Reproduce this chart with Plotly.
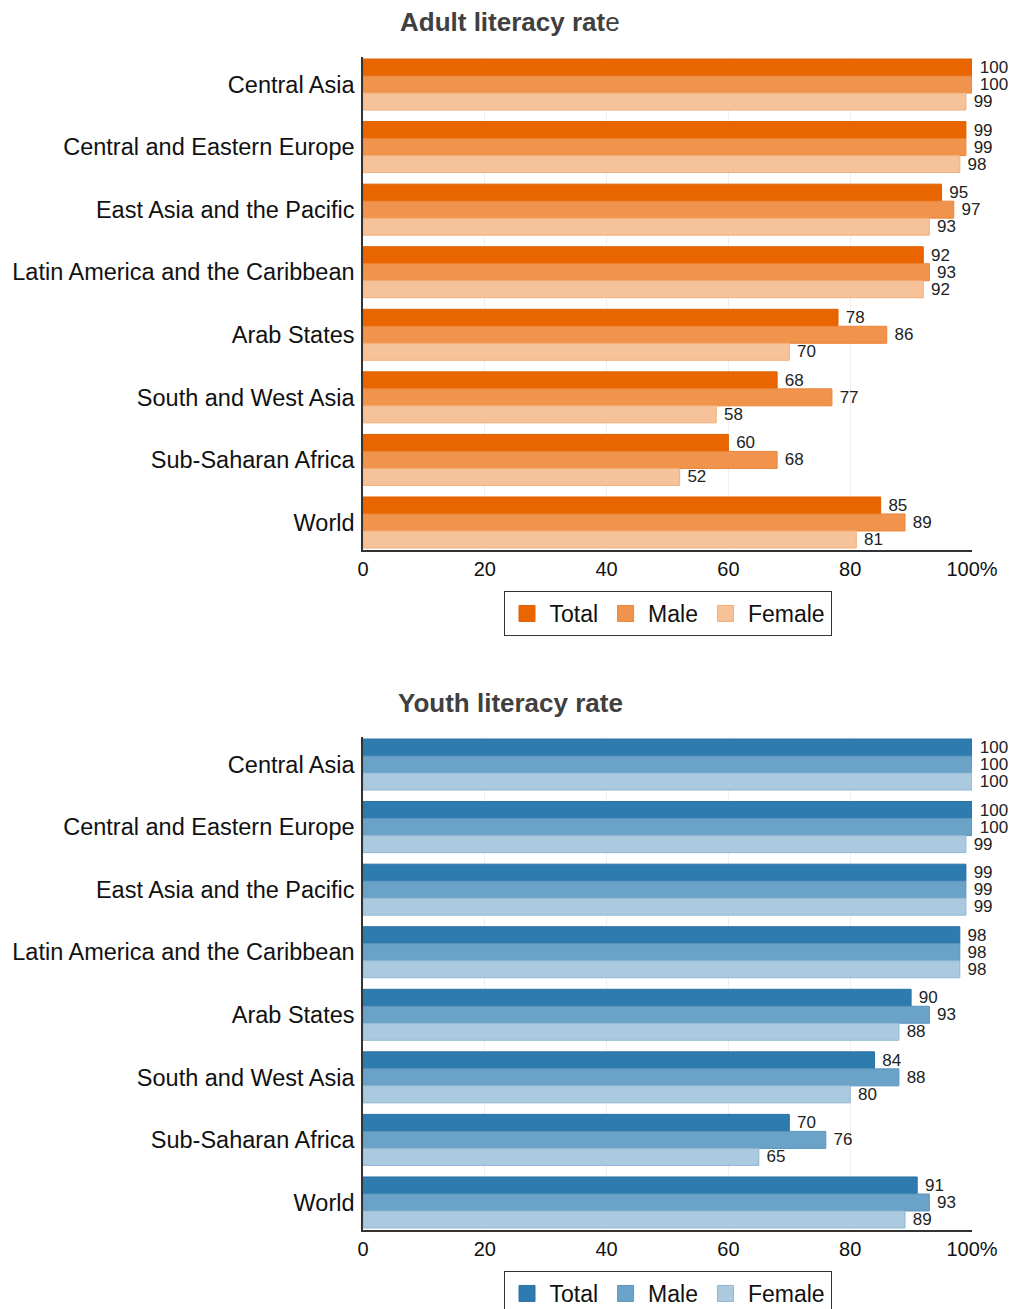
import plotly.graph_objects as go

regions = ["Central Asia", "Central and Eastern Europe", "East Asia and the Pacific",
           "Latin America and the Caribbean", "Arab States", "South and West Asia",
           "Sub-Saharan Africa", "World"]
series_names = ["Total", "Male", "Female"]

adult_total = [100, 99, 95, 92, 78, 68, 60, 85]
adult_male = [100, 99, 97, 93, 86, 77, 68, 89]
adult_female = [99, 98, 93, 92, 70, 58, 52, 81]

youth_total = [100, 100, 99, 98, 90, 84, 70, 91]
youth_male = [100, 100, 99, 98, 93, 88, 76, 93]
youth_female = [100, 99, 99, 98, 88, 80, 65, 89]

x_ticks = [0, 20, 40, 60, 80, 100]
x_ticklabels = ["0", "20", "40", "60", "80", "100%"]

orange_fill = ["#E86500", "#F0944D", "#F6C29A"]
orange_line = ["#E06000", "#EC8438", "#F2AE78"]
blue_fill = ["#2E7BB0", "#6BA3C8", "#ABCAE0"]
blue_line = ["#2A70A2", "#5C95BE", "#8FB6D4"]

FONT = "Liberation Sans, Arial, sans-serif"
W, H = 1011, 1309

fig = go.Figure()

def add_group(vals_list, fills, lines, xa, ya, legend):
    for name, vals, fc, lc in zip(series_names, vals_list, fills, lines):
        fig.add_trace(go.Bar(
            y=regions, x=vals, name=name, orientation="h",
            marker=dict(color=fc, line=dict(color=lc, width=1)),
            text=[f" {v:.0f}" for v in vals], textposition="outside",
            textfont=dict(size=17, color="#222222", family=FONT),
            constraintext="none", cliponaxis=False,
            xaxis=xa, yaxis=ya, showlegend=False, hoverinfo="x+y",
        ))
    # legend swatches
    for name, fc, lc in zip(series_names, fills, lines):
        fig.add_trace(go.Scatter(
            x=[None], y=[None], mode="markers", name=name,
            marker=dict(symbol="square", size=16, color=fc, line=dict(color=lc, width=1)),
            xaxis=xa, yaxis=ya, legend=legend, showlegend=True,
        ))

add_group([adult_total, adult_male, adult_female], orange_fill, orange_line, "x", "y", "legend")
add_group([youth_total, youth_male, youth_female], blue_fill, blue_line, "x2", "y2", "legend2")

x0, x1 = 363 / W, 972 / W
top_dom = [1 - 550 / H, 1 - 57 / H]
bot_dom = [1 - 1230 / H, 1 - 737 / H]

xaxis_common = dict(
    range=[0, 100], tickvals=x_ticks, ticktext=x_ticklabels,
    showgrid=True, gridcolor="#EFEFEF", gridwidth=1,
    showline=True, linecolor="#333333", linewidth=1.5,
    zeroline=False, ticks="", tickfont=dict(size=20, color="#111111", family=FONT),
    domain=[x0, x1], fixedrange=True,
)
yaxis_common = dict(
    categoryorder="array", categoryarray=regions,
    range=[7.44, -0.44], showline=True, linecolor="#333333", linewidth=1.5,
    showgrid=False, zeroline=False, ticks="", ticklabelstandoff=2,
    tickfont=dict(size=23.5, color="#111111", family=FONT), automargin=False,
    fixedrange=True,
)

legend_common = dict(
    orientation="h", xanchor="center", yanchor="top", x=(504 + 831) / 2 / W,
    bordercolor="#333333", borderwidth=1, bgcolor="white",
    font=dict(size=23, color="#111111", family=FONT), traceorder="normal",
    itemsizing="trace", itemwidth=35,
)

fig.update_layout(
    width=W, height=H, margin=dict(l=0, r=0, t=0, b=0, autoexpand=False),
    paper_bgcolor="white", plot_bgcolor="white",
    barmode="group", bargap=0.185, bargroupgap=0,
    font=dict(family=FONT),
    xaxis=dict(**xaxis_common, anchor="y"),
    yaxis=dict(**yaxis_common, domain=top_dom, anchor="x"),
    xaxis2=dict(**xaxis_common, anchor="y2"),
    yaxis2=dict(**yaxis_common, domain=bot_dom, anchor="x2"),
    legend=dict(**legend_common, y=1 - 591 / H),
    legend2=dict(**legend_common, y=1 - 1271 / H),
    annotations=[
        dict(text="<b>Adult literacy rat</b>e", x=510 / W, y=1 - 22 / H, xref="paper", yref="paper",
             xanchor="center", yanchor="middle",
             showarrow=False, font=dict(size=26, color="#404040", family=FONT)),
        dict(text="<b>Youth literacy rate</b>", x=510 / W, y=1 - 703 / H, xref="paper", yref="paper",
             xanchor="center", yanchor="middle",
             showarrow=False, font=dict(size=26, color="#404040", family=FONT)),
    ],
    showlegend=True,
)

fig.write_html("out.html", config={"displayModeBar": False},
               post_script="document.body.style.margin='0';document.body.style.overflow='hidden';")
